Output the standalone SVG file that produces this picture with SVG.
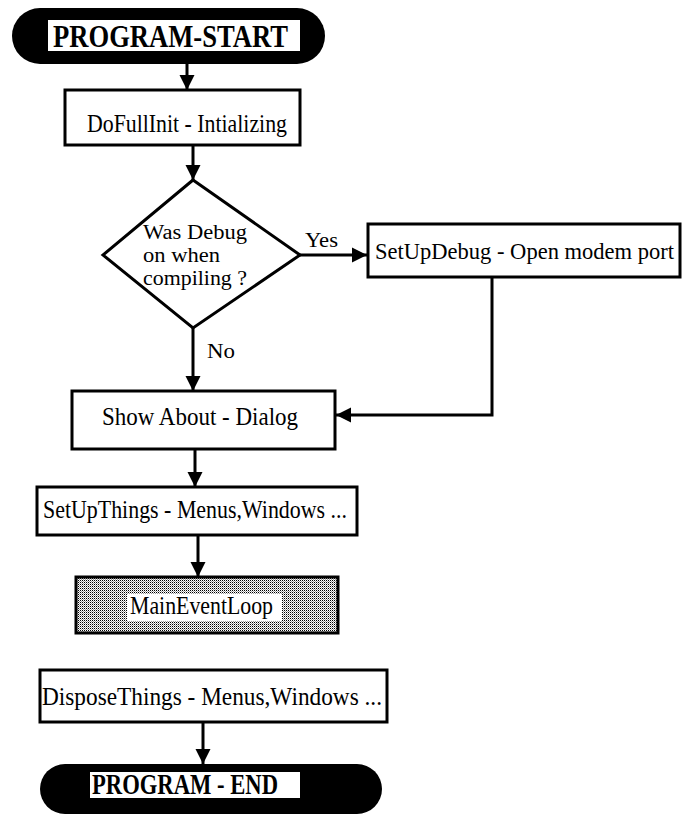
<svg xmlns="http://www.w3.org/2000/svg" width="685" height="814" viewBox="0 0 685 814">
  <style>
    .box { fill: #fff; stroke: #000; stroke-width: 3; }
    .term { fill: #000; }
    .termlabel { fill: #fff; }
    .edge { fill: none; stroke: #000; stroke-width: 3; }
    .t { font-family: "Liberation Serif", "DejaVu Serif", serif; font-size: 25px; fill: #000; }
    .t.lbl { font-size: 22px; }
    .t.q { font-size: 20px; }
    .t.wide { font-size: 22.5px; }
    .tb { font-family: "Liberation Serif", "DejaVu Serif", serif; font-size: 31px; font-weight: bold; fill: #000; }
    .tb.end { font-size: 29px; }
  </style>
  <defs>
    <marker id="arrow" viewBox="0 0 10 10" refX="10" refY="5" markerWidth="5" markerHeight="5.4" markerUnits="strokeWidth" orient="auto">
      <path d="M0,0 L10,5 L0,10 Z" fill="#000"/>
    </marker>
    <!-- dithered gray fill for the event loop block -->
    <pattern id="stipple" width="2" height="2" patternUnits="userSpaceOnUse">
      <rect width="2" height="2" fill="#fff"/>
      <rect x="0" y="0" width="1" height="1" fill="#000"/>
      <rect x="1" y="1" width="1" height="1" fill="#9a9a9a"/>
    </pattern>
  </defs>

  <rect width="685" height="814" fill="#fff"/>

  <g id="connectors">
    <line class="edge" x1="187" y1="64" x2="187" y2="90" marker-end="url(#arrow)"/>
    <line class="edge" x1="193" y1="145" x2="193" y2="180" marker-end="url(#arrow)"/>
    <line class="edge" x1="300" y1="255" x2="367" y2="255" marker-end="url(#arrow)"/>
    <text class="t lbl" x="305" y="247" textLength="33" lengthAdjust="spacingAndGlyphs">Yes</text>
    <line class="edge" x1="193" y1="328" x2="193" y2="391" marker-end="url(#arrow)"/>
    <text class="t lbl" x="207" y="358" textLength="28" lengthAdjust="spacingAndGlyphs">No</text>
    <polyline class="edge" points="492,277 492,415 336,415" marker-end="url(#arrow)"/>
    <line class="edge" x1="195" y1="449" x2="195" y2="487" marker-end="url(#arrow)"/>
    <line class="edge" x1="198" y1="535" x2="198" y2="577" marker-end="url(#arrow)"/>
    <line class="edge" x1="203" y1="722" x2="203" y2="764" marker-end="url(#arrow)"/>
  </g>

  <g id="program-start">
    <rect class="term" x="12" y="8" width="313" height="56" rx="28"/>
    <rect class="termlabel" x="48" y="20" width="252" height="31"/>
    <text class="tb" x="53" y="47" textLength="235" lengthAdjust="spacingAndGlyphs">PROGRAM-START</text>
  </g>

  <g id="do-full-init">
    <rect class="box" x="65" y="90" width="235" height="55"/>
    <text class="t" x="87" y="132" textLength="200" lengthAdjust="spacingAndGlyphs">DoFullInit - Intializing</text>
  </g>

  <g id="debug-decision">
    <polygon class="box" points="193,180 300,255 193,328 103,255"/>
    <text class="t q">
      <tspan x="143" y="239" textLength="104" lengthAdjust="spacingAndGlyphs">Was Debug</tspan>
      <tspan x="143" y="262" textLength="77" lengthAdjust="spacingAndGlyphs">on when</tspan>
      <tspan x="143" y="285" textLength="104" lengthAdjust="spacingAndGlyphs">compiling ?</tspan>
    </text>
  </g>

  <g id="setup-debug">
    <rect class="box" x="368" y="224" width="312" height="53"/>
    <text class="t wide" x="375" y="259" textLength="299" lengthAdjust="spacingAndGlyphs">SetUpDebug - Open modem port</text>
  </g>

  <g id="show-about">
    <rect class="box" x="72" y="391" width="263" height="58"/>
    <text class="t" x="102" y="425" textLength="196" lengthAdjust="spacingAndGlyphs">Show About - Dialog</text>
  </g>

  <g id="setup-things">
    <rect class="box" x="37" y="487" width="320" height="48"/>
    <text class="t" x="43" y="518" textLength="304" lengthAdjust="spacingAndGlyphs">SetUpThings - Menus,Windows ...</text>
  </g>

  <g id="main-event-loop">
    <rect x="76" y="577" width="262" height="56" fill="url(#stipple)" stroke="#000" stroke-width="3"/>
    <rect x="127" y="594" width="155" height="27" fill="#fff"/>
    <text class="t" x="130" y="614" textLength="143" lengthAdjust="spacingAndGlyphs">MainEventLoop</text>
  </g>

  <g id="dispose-things">
    <rect class="box" x="40" y="670" width="347" height="52"/>
    <text class="t" x="42" y="705" textLength="340" lengthAdjust="spacingAndGlyphs">DisposeThings - Menus,Windows ...</text>
  </g>

  <g id="program-end">
    <rect class="term" x="40" y="764" width="342" height="50" rx="25"/>
    <rect class="termlabel" x="90" y="772" width="210" height="26"/>
    <text class="tb end" x="92" y="794" textLength="186" lengthAdjust="spacingAndGlyphs">PROGRAM - END</text>
  </g>
</svg>
